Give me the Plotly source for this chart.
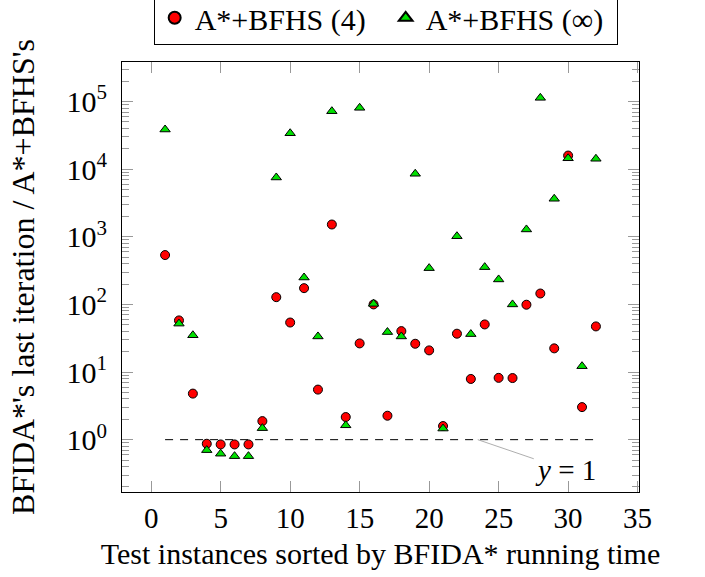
import plotly.graph_objects as go

# Test instances (sorted by BFIDA* running time)
instances = list(range(1, 33))

# Ratio of BFIDA*'s last iteration to A*+BFHS, two configurations
ratio_bfhs_4 = [537, 58, 4.8, 0.87, 0.85, 0.85, 0.85, 1.88, 128, 54,
                174, 5.5, 1520, 2.16, 26.5, 100, 2.26, 40.3, 26.2, 20.9,
                1.59, 36.9, 7.9, 50.6, 8.2, 8.15, 99, 145, 22.4, 15900,
                3.03, 47.3]
ratio_bfhs_inf = [38600, 52, 35, 0.70, 0.62, 0.57, 0.57, 1.48, 7540, 34000,
                  250, 33.6, 72000, 1.63, 80800, 102, 39, 33.6, 8550, 344,
                  1.46, 1020, 36.4, 356, 234, 100, 1285, 113500, 3650, 14500,
                  12.2, 14250]

# Reference line y = 1 across the instance range
ref_x = [1, 32]
ref_y = [1, 1]

x_ticks = [0, 5, 10, 15, 20, 25, 30, 35]
y_exponents = [0, 1, 2, 3, 4, 5]
y_ticks = [10 ** e for e in y_exponents]
y_ticktext = [f"10<sup>{e}</sup>" for e in y_exponents]
y_minor = [k * 10.0 ** e for e in range(-1, 6) for k in range(2, 10)]

FONT = "Liberation Serif"

fig = go.Figure()

fig.add_trace(go.Scatter(
    x=ref_x, y=ref_y, mode="lines", showlegend=False, hoverinfo="skip",
    line=dict(color="black", width=1, dash="8px,7px"),
))

fig.add_trace(go.Scatter(
    x=instances, y=ratio_bfhs_4, mode="markers", name="A*+BFHS (4)",
    marker=dict(symbol="circle", size=9, color="red",
                line=dict(color="black", width=1)),
))

fig.add_trace(go.Scatter(
    x=instances, y=ratio_bfhs_inf, mode="markers", name="A*+BFHS (∞)",
    marker=dict(symbol="triangle-up", size=9, color="#00e000",
                line=dict(color="black", width=1)),
))

# Pin label for the y = 1 line
fig.add_annotation(
    x=23.5, y=0, xref="x", yref="y",
    text="<i>y</i> = 1", showarrow=True, arrowhead=0, arrowwidth=0.8,
    arrowcolor="#999999", ax=88, ay=30, standoff=0,
    font=dict(family=FONT, size=29, color="black"),
)

fig.update_layout(
    width=705, height=577,
    margin=dict(l=122, r=66, t=62, b=85, autoexpand=False),
    paper_bgcolor="white", plot_bgcolor="white",
    font=dict(family=FONT, size=29, color="black"),
    showlegend=True,
    legend=dict(
        orientation="h", x=0.51, xanchor="center", y=1.04, yanchor="bottom",
        bordercolor="black", borderwidth=1, bgcolor="white",
        font=dict(family=FONT, size=30), itemsizing="constant",
        tracegroupgap=0, itemwidth=30, entrywidth=186,
    ),
)

fig.update_xaxes(
    range=[-2.1, 35.1], tickvals=x_ticks, ticks="inside", ticklen=11,
    tickcolor="#999999", tickwidth=1, showline=True, linecolor="black",
    linewidth=1, mirror="allticks", showgrid=False, zeroline=False,
    tickfont=dict(family=FONT, size=29),
    title=dict(text="Test instances sorted by BFIDA* running time",
               font=dict(family=FONT, size=30), standoff=10),
)

fig.update_yaxes(
    type="log", range=[-0.774, 5.585], tickvals=y_ticks, ticktext=y_ticktext,
    ticks="inside", ticklen=11, tickcolor="#999999", tickwidth=1,
    ticklabelstandoff=8,
    minor=dict(tickmode="array", tickvals=y_minor, ticks="inside", ticklen=7,
               tickcolor="#999999", tickwidth=1, showgrid=False),
    showline=True, linecolor="black", linewidth=1, mirror="allticks",
    showgrid=False, zeroline=False,
    tickfont=dict(family=FONT, size=30),
    title=dict(text="BFIDA*'s last iteration / A*+BFHS's",
               font=dict(family=FONT, size=32), standoff=22),
)

fig.write_html("out.html")
